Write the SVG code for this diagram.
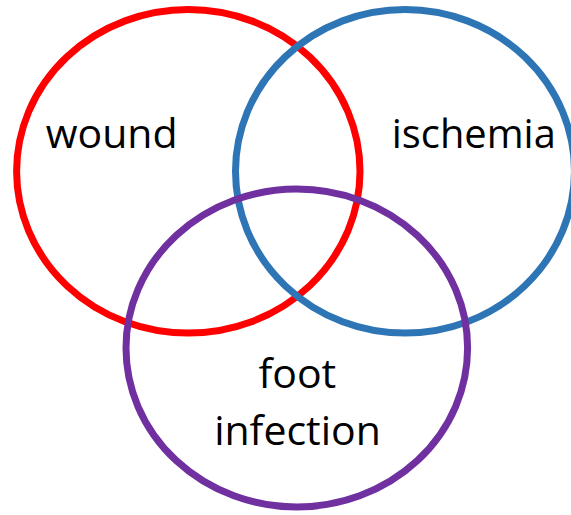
<svg xmlns="http://www.w3.org/2000/svg" width="571" height="515" viewBox="0 0 571 515">
  <style>
    .ring { fill: none; stroke-width: 7; }
    .label { font-family: "Open Sans", "Noto Sans", "DejaVu Sans", sans-serif; font-size: 41px; fill: #000000; text-anchor: middle; }
  </style>
  <rect x="0" y="0" width="571" height="515" fill="#ffffff"/>
  <g id="wound">
    <ellipse class="ring" cx="188.3" cy="171.3" rx="171.7" ry="161.8" stroke="#FF0000"/>
    <text class="label" x="111.7" y="148">wound</text>
  </g>
  <g id="ischemia">
    <ellipse class="ring" cx="405" cy="171.3" rx="169.5" ry="161.8" stroke="#2E75B6"/>
    <text class="label" x="473.8" y="148" textLength="164" lengthAdjust="spacingAndGlyphs">ischemia</text>
  </g>
  <g id="foot-infection">
    <ellipse class="ring" cx="296.8" cy="348" rx="170.8" ry="159" stroke="#7030A0"/>
    <text class="label" x="297.3" y="388">foot</text>
    <text class="label" x="297.5" y="445">infection</text>
  </g>
  <g id="connectors"/>
</svg>
